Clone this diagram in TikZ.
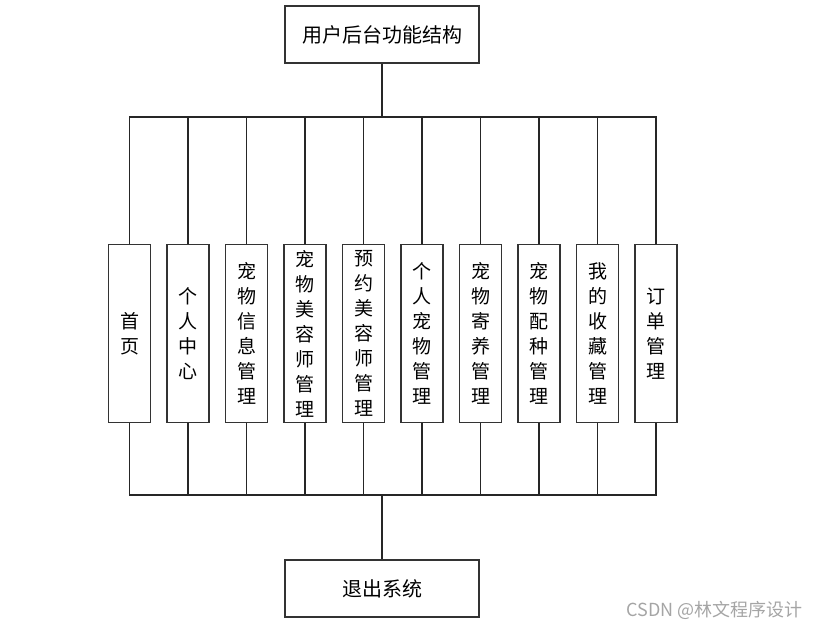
\documentclass[tikz,border=0pt]{standalone}
\usepackage{fontspec}
\setmainfont{Noto Sans CJK SC}
\usetikzlibrary{positioning}
\definecolor{boxgray}{RGB}{51,51,51}
\definecolor{markgray}{RGB}{165,165,165}
\tikzset{
 titlebox/.style={
 rectangle,
 draw=boxgray,
 line width=1.5pt,
 minimum width=194pt,
 minimum height=57pt,
 inner sep=0pt,
 font=\fontsize{20}{24}\selectfont
 },
 modbox/.style={
 rectangle,
 draw=boxgray,
 line width=1.5pt,
 minimum width=42pt,
 minimum height=178pt,
 inner sep=0pt,
 align=center,
 font=\fontsize{19}{25}\selectfont
 },
 busline/.style={draw=black!85, line width=1.2pt}
}
\begin{document}
\begin{tikzpicture}[x=1pt, y=-1pt, node distance=15pt]
 \useasboundingbox (0,0) rectangle (820,630);
 \node[titlebox] (title) at (382,34.5) {用户后台功能结构};
 \node[modbox] (m1) at (129.5,333.5) {首\\页};
 \node[modbox, right=of m1] (m2) {个\\人\\中\\心};
 \node[modbox, right=of m2] (m3) {宠\\物\\信\\息\\管\\理};
 \node[modbox, right=of m3] (m4) {宠\\物\\美\\容\\师\\管\\理};
 \node[modbox, right=of m4] (m5) {预\\约\\美\\容\\师\\管\\理};
 \node[modbox, right=of m5] (m6) {个\\人\\宠\\物\\管\\理};
 \node[modbox, right=of m6] (m7) {宠\\物\\寄\\养\\管\\理};
 \node[modbox, right=of m7] (m8) {宠\\物\\配\\种\\管\\理};
 \node[modbox, right=of m8] (m9) {我\\的\\收\\藏\\管\\理};
 \node[modbox, right=of m9] (m10) {订\\单\\管\\理};
 \node[titlebox] (exit) at (382,588.5) {退出系统};
 \node[font=\fontsize{18}{21}\selectfont, text=markgray, anchor=east] (mark) at (806,610) {CSDN @林文程序设计};

 \coordinate (topbus) at (382,117);
 \coordinate (botbus) at (382,495);
 \draw[busline, line width=2pt] (title.south) -- (topbus);
 \draw[busline, line width=2pt] (exit.north) -- (botbus);
 \foreach \i in {1,...,10} {
 \draw[busline] (topbus) -| (m\i.north);
 \draw[busline] (botbus) -| (m\i.south);
 }
\end{tikzpicture}
\end{document}
